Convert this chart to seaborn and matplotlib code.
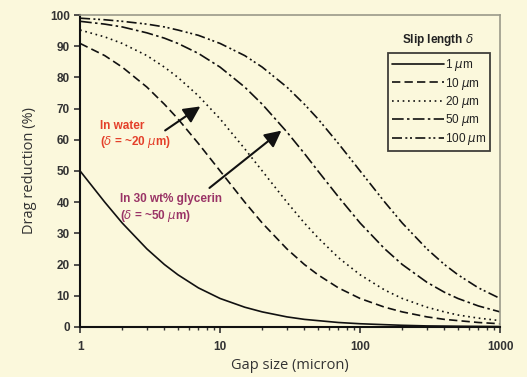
import numpy as np
import pandas as pd
import matplotlib
matplotlib.use("Agg")
import matplotlib.pyplot as plt
import seaborn as sns

# gap size (micron) and drag reduction (%)
gap = [1, 1.5, 2, 3, 4, 5, 7, 10, 15, 20, 30, 40, 50, 70, 100,
       150, 200, 300, 400, 500, 700, 1000]
dr_1 = [50, 40, 33.3, 25, 20, 16.7, 12.5, 9.1, 6.3, 4.8, 3.2, 2.4, 2.0, 1.4, 1.0,
        0.7, 0.5, 0.3, 0.25, 0.2, 0.15, 0.1]
dr_10 = [90.9, 87.0, 83.3, 76.9, 71.4, 66.7, 58.8, 50, 40, 33.3, 25, 20, 16.7, 12.5, 9.1,
         6.3, 4.8, 3.2, 2.4, 2.0, 1.4, 1.0]
dr_20 = [95.2, 93.0, 90.9, 87.0, 83.3, 80, 74.1, 66.7, 57.1, 50, 40, 33.3, 28.6, 22.2, 16.7,
         11.8, 9.1, 6.3, 4.8, 3.8, 2.8, 2.0]
dr_50 = [98.0, 97.1, 96.2, 94.3, 92.6, 90.9, 87.7, 83.3, 76.9, 71.4, 62.5, 55.6, 50, 41.7, 33.3,
         25, 20, 14.3, 11.1, 9.1, 6.7, 4.8]
dr_100 = [99.0, 98.5, 98.0, 97.1, 96.2, 95.2, 93.5, 90.9, 87.0, 83.3, 76.9, 71.4, 66.7, 58.8, 50,
          40, 33.3, 25, 20, 16.7, 12.5, 9.1]
slip_labels = ["1 $\\mu$m", "10 $\\mu$m", "20 $\\mu$m", "50 $\\mu$m", "100 $\\mu$m"]

series = [dr_1, dr_10, dr_20, dr_50, dr_100]
df = pd.concat([pd.DataFrame({"gap": gap, "dr": s, "slip": lab})
                for s, lab in zip(series, slip_labels)])

bg = "#FBF8DC"
sns.set_style("ticks")
plt.rcParams["font.family"] = ["Liberation Sans", "DejaVu Sans"]

fig = plt.figure(figsize=(5.27, 3.77), dpi=100, facecolor=bg)
ax = fig.add_axes([0.152, 0.133, 0.797, 0.827])
ax.set_facecolor(bg)

dashes = {slip_labels[0]: "", slip_labels[1]: (5, 2.5), slip_labels[2]: (1, 2.2),
          slip_labels[3]: (7, 2, 1.5, 2), slip_labels[4]: (6, 2, 1.2, 1.6, 1.2, 2)}
sns.lineplot(data=df, x="gap", y="dr", style="slip", dashes=dashes, color="#111111",
             linewidth=1.2, ax=ax, legend=True)

ax.set_xscale("log")
ax.set_xlim(1, 1000)
ax.set_ylim(0, 100)
ax.set_yticks(range(0, 101, 10))
ax.set_xticks([1, 10, 100, 1000])
ax.set_xticklabels(["1", "10", "100", "1000"])
ax.tick_params(axis="both", labelsize=8.5, colors="#333333", width=1.2, length=4)
ax.tick_params(axis="x", which="minor", length=2.5, width=1, color="#333333")
for lab in ax.get_xticklabels() + ax.get_yticklabels():
    lab.set_fontweight("bold")
ax.tick_params(axis="x", pad=6)

for side in ["left", "bottom"]:
    ax.spines[side].set_color("#111111")
    ax.spines[side].set_linewidth(1.5)
for side in ["top", "right"]:
    ax.spines[side].set_color("#9a9a8a")
    ax.spines[side].set_linewidth(1.2)

ax.set_xlabel("Gap size (micron)", fontsize=10.5, color="#333333",
              family=["Open Sans", "DejaVu Sans"], labelpad=4)
ax.set_ylabel("Drag reduction (%)", fontsize=10.5, color="#333333",
              family=["Open Sans", "DejaVu Sans"], labelpad=9)

handles, labels = ax.get_legend_handles_labels()
leg = ax.legend(handles, labels, loc="upper right", bbox_to_anchor=(0.976, 0.878),
                frameon=True, fancybox=False, fontsize=8.5, handlelength=4.4,
                handletextpad=0.05, labelspacing=0.2, borderpad=0.35,
                borderaxespad=0)
leg.get_frame().set_edgecolor("#111111")
leg.get_frame().set_linewidth(1.3)
leg.get_frame().set_facecolor(bg)
for t in leg.get_texts():
    t.set_color("#222222")
ax.text(0.852, 0.92, "Slip length $\\delta$", transform=ax.transAxes, ha="center",
        va="center", fontsize=8.5, fontweight="bold", color="#222222")

# annotations
ax.annotate("", xy=(7.5, 71.2), xytext=(3.9, 62.5),
            arrowprops=dict(arrowstyle="-|>,head_length=1.0,head_width=0.5",
                            color="#111111", lw=1.5))
ax.text(1.38, 61.5, "In water\n($\\delta$ = ~20 $\\mu$m)", fontsize=8.5, fontweight="bold",
        color="#E4402A", va="center", linespacing=1.25)
ax.annotate("", xy=(28.4, 63.5), xytext=(8.1, 44),
            arrowprops=dict(arrowstyle="-|>,head_length=1.0,head_width=0.5",
                            color="#111111", lw=1.5))
ax.text(1.93, 38, "In 30 wt% glycerin\n($\\delta$ = ~50 $\\mu$m)", fontsize=8.5,
        fontweight="bold", color="#9A3466", va="center", linespacing=1.25)

fig.savefig("out.png", dpi=100, facecolor=bg)
